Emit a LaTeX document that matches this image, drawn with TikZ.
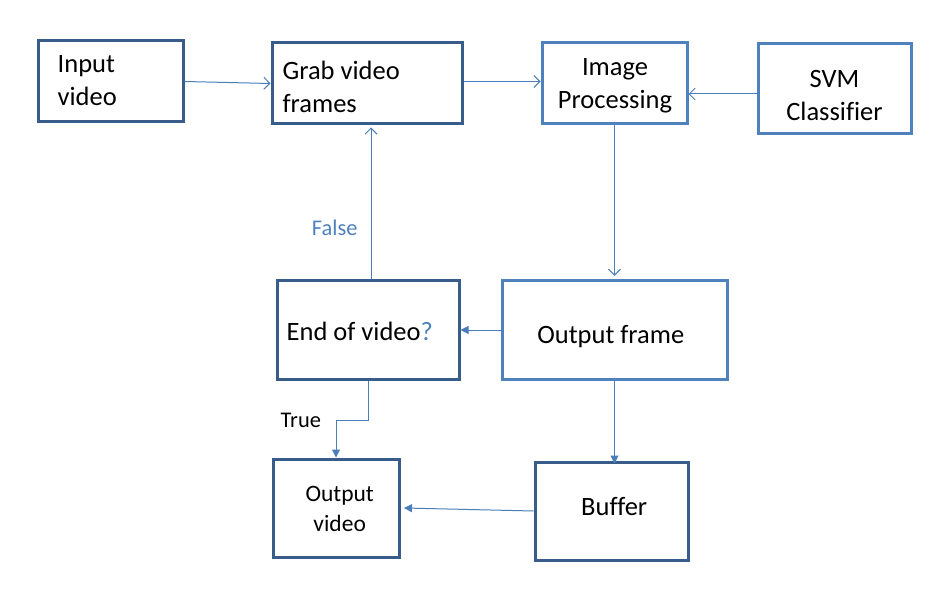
\documentclass[tikz,border=0pt]{standalone}
\usepackage{fontspec}
\setmainfont{Carlito}[Ligatures=NoCommon]
\usetikzlibrary{arrows.meta,calc}
\definecolor{darkb}{HTML}{385D8A}
\definecolor{lightb}{HTML}{4F81BD}
\definecolor{arrc}{HTML}{4A7EBB}
\begin{document}
\begin{tikzpicture}[x=1pt,y=-1pt,
  boxd/.style={draw=darkb,line width=3pt,inner sep=0pt},
  boxl/.style={draw=lightb,line width=3pt,inner sep=0pt},
  txt/.style={inner sep=0pt,font=\fontsize{26.5}{33}\selectfont,align=center},
  txtsmall/.style={inner sep=0pt,font=\fontsize{23.5}{29.5}\selectfont,align=center},
  lbl/.style={inner sep=0pt,font=\fontsize{22.4}{27}\selectfont},
  openarr/.style={draw=arrc,line width=1pt,-{Straight Barb[length=6pt,width=12pt,line width=1pt]}},
  fillarr/.style={draw=arrc,line width=1pt,-{Triangle[length=8pt,width=8pt]}}
]
\useasboundingbox (0,0) rectangle (925,593);
\fill[white] (0,0) rectangle (925,593);

% boxes
\node[boxd,minimum width=145pt,minimum height=81pt] (in)   at (110.5,81.5) {};
\node[boxd,minimum width=190pt,minimum height=81pt] (grab) at (367,83.5) {};
\node[boxl,minimum width=145pt,minimum height=81pt] (img)  at (614.5,83.5) {};
\node[boxl,minimum width=153pt,minimum height=90pt] (svm)  at (834.5,89) {};
\node[boxd,minimum width=182pt,minimum height=98pt] (end)  at (368,330) {};
\node[boxl,minimum width=225pt,minimum height=98pt] (outf) at (614.5,330) {};
\node[boxd,minimum width=126pt,minimum height=98pt] (outv) at (336,508) {};
\node[boxd,minimum width=153pt,minimum height=98pt] (buf)  at (611.5,511) {};

% texts
\node[txt,align=left,anchor=west] (int) at (57.5,80.8) {Input\\video};
\node[txt,align=left,anchor=west] (grabt) at (282.4,86.9) {Grab video\\frames};
\node[txt] (imgt) at (615,86.1) {Image\\Processing};
\node[txt] (svmt) at (834.5,95.3) {SVM\\Classifier};
\node[txt,anchor=base west] (endt) at (286.5,340) {End of video\textcolor{lightb}{?}};
\node[txt,anchor=base] (outft) at (610.8,343.7) {Output frame};
\node[txtsmall] (outvt) at (339.7,509) {Output\\video};
\node[txt,anchor=base] (buft) at (614.2,515.7) {Buffer};
\node[lbl,anchor=base,text=lightb] (false) at (334.7,235.7) {False};
\node[lbl,anchor=base] (true) at (300.8,427.7) {True};

% connectors
\draw[openarr] (in.east) -- (grab.west);
\draw[openarr] ([yshift=2pt]grab.east) -- ([yshift=2pt]img.west);
\draw[openarr] ([yshift=-5pt]svm.west) -- ([yshift=-10.5pt]img.east);
\draw[openarr] (img.south) -- ([yshift=3.7pt]outf.north);
\draw[openarr] ([xshift=3pt]end.north) -- ([xshift=4pt,yshift=-2pt]grab.south);
\draw[fillarr] (outf.west) -- (end.east);
\draw[fillarr] (end.south) -- ++(0,40) -| (outv.north);
\draw[fillarr] (outf.south) -- ([yshift=-3pt]outf.south |- buf.north);
\draw[fillarr] (buf.west) -- ([xshift=3.5pt]outv.east);
\end{tikzpicture}
\end{document}
